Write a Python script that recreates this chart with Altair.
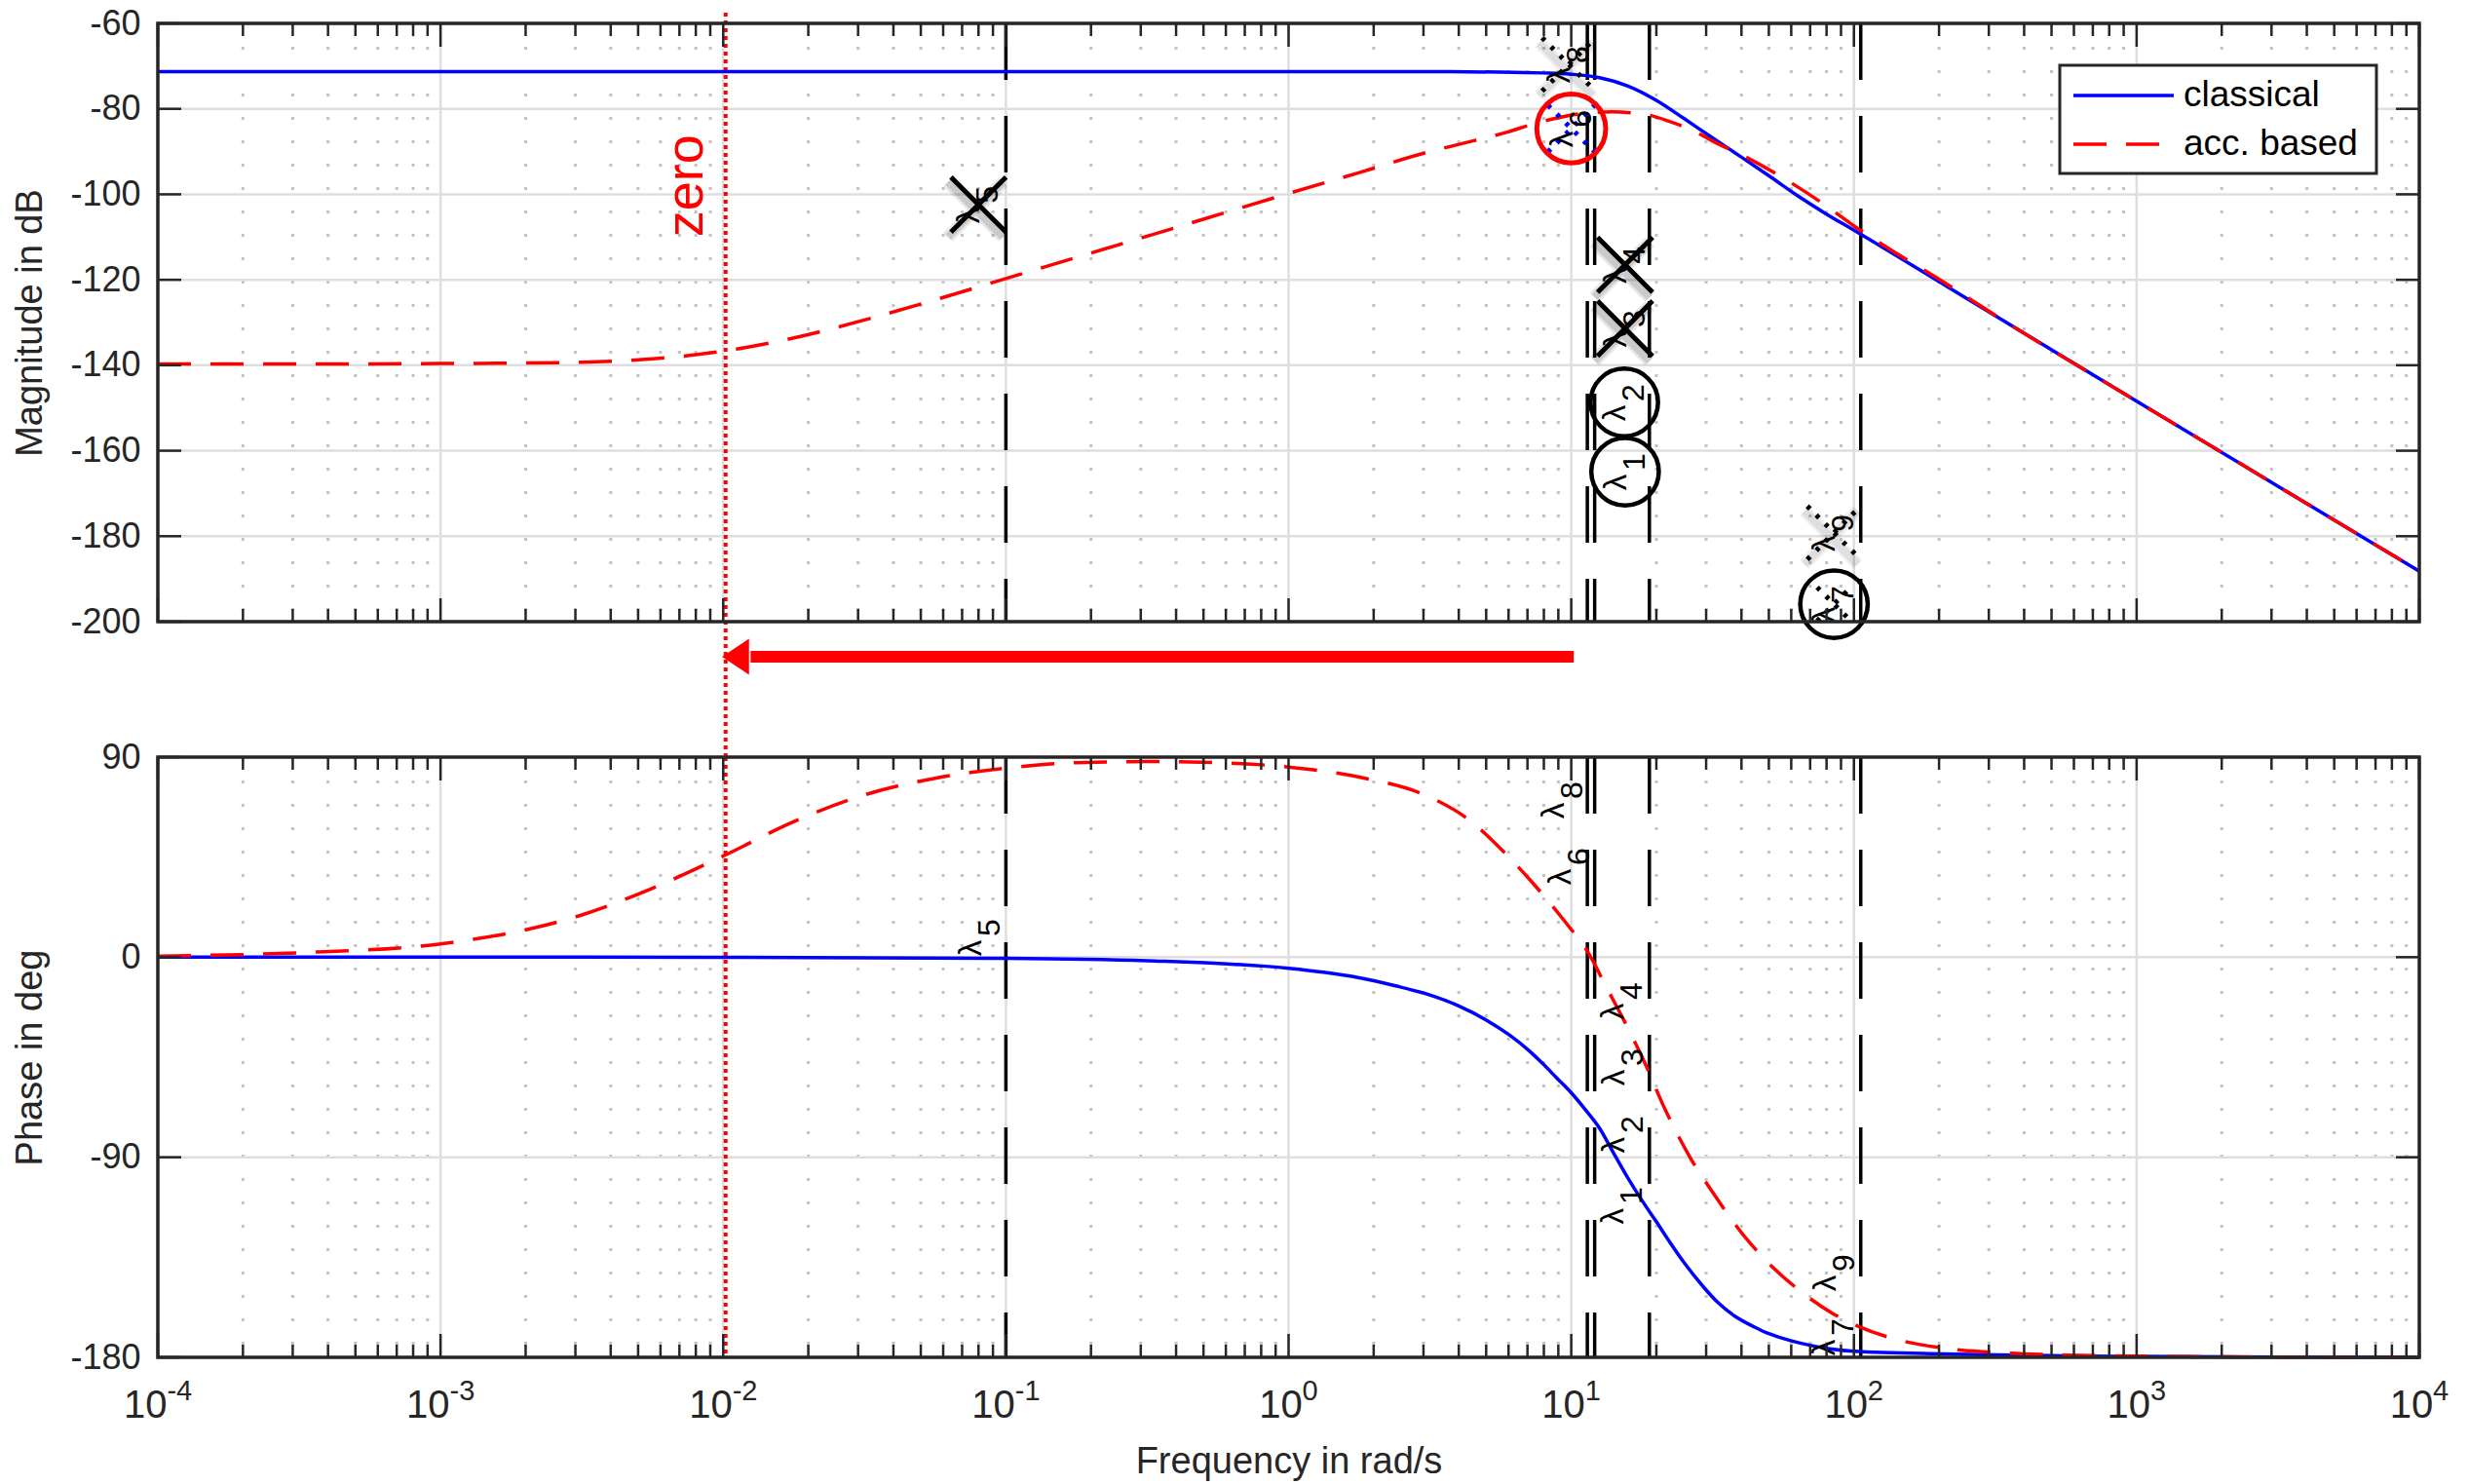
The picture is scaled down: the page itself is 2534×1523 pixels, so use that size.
import altair as alt
import pandas as pd

# ---------------- values ----------------
# magnitude (dB)
mag_freq_classical = [1e-4, 1e-3, 1e-2, 1e-1, 1, 3.16, 5.62, 7.94, 10, 12.6, 15.8, 20.0, 25.1, 31.6,
                      39.8, 50.1, 63.1, 79.4, 100, 214, 316, 1000, 3160, 10000]
mag_classical = [-71.3, -71.3, -71.3, -71.3, -71.3, -71.3, -71.4, -71.6, -71.9, -72.7, -74.6, -78.0,
                 -82.3, -86.8, -91.2, -95.7, -100.3, -104.5, -108.4, -121.6, -128.4, -148.4, -168.3, -188.2]
mag_freq_acc = [1e-4, 3.16e-4, 1e-3, 3.16e-3, 5.62e-3, 1e-2, 1.78e-2, 3.16e-2, 5.62e-2, 0.1, 0.316, 1,
                1.78, 3.16, 4.01, 5.97, 7.38, 9.12, 11.2, 13.9, 18.6, 22.4, 27.0, 32.4, 40.1, 56.6, 79.8,
                101, 125, 213, 316, 1000, 3160, 10000]
mag_acc = [-139.7, -139.7, -139.6, -139.3, -138.5, -136.7, -133.6, -129.4, -124.7, -119.7, -109.8, -99.8,
           -94.9, -90.0, -88.3, -85.4, -83.5, -82.0, -81.0, -80.7, -81.4, -83.0, -85.1, -87.9, -90.8,
           -96.3, -102.7, -107.6, -111.6, -121.0, -128.3, -148.4, -168.3, -188.2]
# phase (deg)
ph_freq_classical = [1e-4, 1e-3, 1e-2, 0.1, 0.316, 1, 1.33, 1.78, 2.37, 3.16, 3.98, 5.01, 6.04, 7.08, 7.94,
                     8.91, 10, 11.2, 12.6, 14.1, 15.8, 17.8, 20.0, 22.4, 25.1, 29.2, 33.1, 37.9, 44.7, 49.2,
                     56.2, 64.0, 83.2, 100, 209, 562, 1000, 3160, 10000]
ph_classical = [0, 0, -0.05, -0.5, -1.6, -5, -6.8, -9.3, -12.8, -17, -21.8, -28.3, -35, -42, -48,
                -54.5, -61, -68.5, -77, -88, -99, -109.5, -119, -128.5, -137.5, -148, -155.5, -161.5,
                -166.5, -169, -171.5, -173.5, -176.3, -177.3, -178.5, -179.3, -179.6, -179.9, -180]
ph_freq_acc = [1e-4, 3.16e-4, 1e-3, 3.16e-3, 5.62e-3, 1e-2, 1.78e-2, 3.16e-2, 5.62e-2, 0.1, 0.178, 0.316,
               0.562, 1, 1.78, 3.16, 4.22, 6.04, 7.26, 9.68, 11.4, 13.3, 15.5, 18.2, 21.3, 26.2, 32.4,
               39.9, 51.9, 64.0, 83.2, 103, 141, 208, 316, 562, 1000, 3160, 10000]
ph_acc = [0.5, 2, 6, 19, 31, 45.5, 61, 73, 80.5, 85, 87.5, 88, 87.5, 85.5, 81, 72, 63, 44.8, 33.8, 14.7,
          2.7, -13.4, -29.4, -47.5, -67.5, -89.6, -107.7, -123.7, -139.8, -149.8, -159.9, -165.9,
          -171.9, -175.9, -177.8, -179, -179.5, -179.9, -180]

# eigenvalue lines, markers and labels
lambda_lines = [0.1, 11.4, 12.1, 18.9, 105.7]
cross_freq = [0.080, 15.5, 15.5]
cross_db = [-102.4, -116.5, -131.4]
cross_lbl = ["5", "4", "3"]
circ_freq = [15.4, 15.5, 85.0]
circ_db = [-148.7, -164.9, -195.9]
circ_lbl = ["2", "1", "7"]
dotx_freq = [9.8, 85.0]
dotx_db = [-69.6, -179.2]
dotx_lbl = ["8", "9"]
inner_dotx_freq = [85.0]
inner_dotx_db = [-195.9]
blue_dotx_freq = [10.0]
blue_dotx_db = [-84.6]
blue_lbl = ["6"]
ph_lbl = ["5", "8", "6", "4", "3", "2", "1", "9", "7"]
ph_lbl_freq = [0.081, 9.31, 9.84, 15.2, 15.3, 15.3, 15.2, 85.3, 84.7]
ph_lbl_deg = [8.9, 70.7, 40.9, -19.6, -49.4, -79.7, -111.7, -141.9, -170.8]

zero_freq = [0.0102]
zero_text_freq = [0.00745]
zero_text_db = [-98]
arrow_from = [10.2]
arrow_shaft_end = [0.0125]
arrow_tip = [0.0099]

series_names = ["classical", "acc. based"]
mag_ticks = [-200, -180, -160, -140, -120, -100, -80, -60]
phase_ticks = [-180, -90, 0, 90]
decades = [1e-4, 1e-3, 1e-2, 1e-1, 1, 10, 100, 1000, 10000]
decade_exp = ["-4", "-3", "-2", "-1", "0", "1", "2", "3", "4"]
minor_mult = [2, 3, 4, 5, 6, 7, 8, 9]
minor = [m * d for d in decades[:-1] for m in minor_mult]

# ---------------- styling ----------------
FONT = "Liberation Sans"
INK = "#262626"
BLUE = "#0000ff"
RED = "#ff0000"
W, H1, H2 = 2321, 614, 616
GAP = 139

xs = alt.Scale(type="log", domain=[1e-4, 1e4], nice=False)
ys1 = alt.Scale(domain=[-200, -60], nice=False, zero=False)
ys2 = alt.Scale(domain=[-180, 90], nice=False, zero=False)

X_PATH = "M-1,-1L1,1M-1,1L1,-1"
HEAD_PATH = "M0,0L1.5,-1L1.5,1Z"

dummy = pd.DataFrame({"a": [0]})
df_dec = pd.DataFrame({"f": decades, "e": decade_exp})
df_min = pd.DataFrame({"f": minor})
df_lines = pd.DataFrame({"f": lambda_lines})

yaxis1 = alt.Axis(values=mag_ticks, labelExpr="datum.value + ''", labelFont=FONT, labelFontSize=36,
                  labelColor=INK, labelPadding=18, ticks=False, domain=False, grid=False,
                  labelFlush=False, labelOverlap=False, title="Magnitude in dB", titleFont=FONT,
                  titleFontSize=38, titleFontWeight="normal", titleColor=INK, titleX=-131, titleY=H1 / 2,
                  titleAngle=270, titleBaseline="middle", titleAlign="center")
yaxis2 = alt.Axis(values=phase_ticks, labelExpr="datum.value + ''", labelFont=FONT, labelFontSize=36,
                  labelColor=INK, labelPadding=18, ticks=False, domain=False, grid=False,
                  labelFlush=False, labelOverlap=False, title="Phase in deg", titleFont=FONT,
                  titleFontSize=38, titleFontWeight="normal", titleColor=INK, titleX=-131, titleY=H2 / 2,
                  titleAngle=270, titleBaseline="middle", titleAlign="center")
xaxis2 = alt.Axis(values=decades, labels=False, ticks=False, domain=False, grid=False,
                  title="Frequency in rad/s", titleFont=FONT, titleFontSize=38, titleFontWeight="normal",
                  titleColor=INK, titleX=W / 2, titleY=107, titleBaseline="middle", titleAlign="center")


class Panel:
    def __init__(self, ys, yaxis, xaxis, H, yticks):
        self.ys, self.yaxis, self.xaxis, self.H, self.yticks = ys, yaxis, xaxis, H, yticks

    def x(self, field="f"):
        return alt.X(f"{field}:Q", scale=xs, axis=self.xaxis)

    def y(self, field="v"):
        return alt.Y(f"{field}:Q", scale=self.ys, axis=self.yaxis)


def background_layers(p):
    H = p.H
    df_y = pd.DataFrame({"v": p.yticks})
    minor_grid = alt.Chart(df_min).mark_rule(color="#c2c2c2", strokeWidth=3, strokeDash=[3, 21]).encode(
        x=p.x(), y=alt.value(0), y2=alt.value(H))
    major_x = alt.Chart(df_dec).mark_rule(color="#dedede", strokeWidth=2.5).encode(
        x=p.x(), y=alt.value(0), y2=alt.value(H))
    major_y = alt.Chart(df_y).mark_rule(color="#dedede", strokeWidth=2.5).encode(
        y=p.y(), x=alt.value(0), x2=alt.value(W))
    dashed = alt.Chart(df_lines).mark_rule(color="black", strokeWidth=3.5, strokeDash=[58, 37]).encode(
        x=p.x(), y=alt.value(0), y2=alt.value(H))
    return [minor_grid, major_x, major_y, dashed]


def tick_layers(p):
    H = p.H
    df_y = pd.DataFrame({"v": p.yticks})
    L, l = 24, 13
    out = []
    for y0, y1 in [(H, H - L), (0, L)]:
        out.append(alt.Chart(df_dec).mark_rule(color=INK, strokeWidth=2.5).encode(
            x=p.x(), y=alt.value(y0), y2=alt.value(y1)))
    for y0, y1 in [(H, H - l), (0, l)]:
        out.append(alt.Chart(df_min).mark_rule(color=INK, strokeWidth=2.5).encode(
            x=p.x(), y=alt.value(y0), y2=alt.value(y1)))
    for x0, x1 in [(0, L), (W, W - L)]:
        out.append(alt.Chart(df_y).mark_rule(color=INK, strokeWidth=2.5).encode(
            y=p.y(), x=alt.value(x0), x2=alt.value(x1)))
    out.append(alt.Chart(dummy).mark_rect(fillOpacity=0, stroke=INK, strokeWidth=3.5).encode(
        x=alt.value(0), x2=alt.value(W), y=alt.value(0), y2=alt.value(H)))
    return out


def curve_layers(p, fc, vc, fa, va):
    dc = pd.DataFrame({"f": fc, "v": vc})
    da = pd.DataFrame({"f": fa, "v": va})
    blue = alt.Chart(dc).mark_line(color=BLUE, strokeWidth=3.5, interpolate="monotone").encode(
        x=p.x(), y=p.y())
    red = alt.Chart(da).mark_line(color=RED, strokeWidth=3.5, strokeDash=[34, 20],
                                  interpolate="monotone").encode(x=p.x(), y=p.y())
    return [blue, red]


def lambda_text(p, df, size=33):
    lam = alt.Chart(df).mark_text(text="λ", angle=270, font=FONT, fontSize=size, color="black",
                                  align="center", baseline="middle", dx=-11, dy=-9).encode(
        x=p.x(), y=p.y())
    num = alt.Chart(df).mark_text(angle=270, font=FONT, fontSize=size - 1, color="black",
                                  align="center", baseline="middle", dx=10, dy=10).encode(
        x=p.x(), y=p.y(), text="lbl:N")
    return [lam, num]


# ---------------- magnitude panel ----------------
P1 = Panel(ys1, yaxis1, None, H1, mag_ticks)

df_cross = pd.DataFrame({"f": cross_freq, "v": cross_db, "lbl": cross_lbl})
df_circ = pd.DataFrame({"f": circ_freq, "v": circ_db, "lbl": circ_lbl})
df_dotx = pd.DataFrame({"f": dotx_freq, "v": dotx_db, "lbl": dotx_lbl})
df_inner = pd.DataFrame({"f": inner_dotx_freq, "v": inner_dotx_db})
df_blue = pd.DataFrame({"f": blue_dotx_freq, "v": blue_dotx_db, "lbl": blue_lbl})
df_top_lbl = pd.concat([df_cross, df_circ, df_dotx, df_blue], ignore_index=True)

top_layers = background_layers(P1)

# zero line (extends through the gap)
top_layers.append(alt.Chart(pd.DataFrame({"f": zero_freq})).mark_rule(
    color=RED, strokeWidth=4, strokeDash=[4, 4]).encode(x=P1.x(), y=alt.value(-11), y2=alt.value(H1 + GAP)))
top_layers += curve_layers(P1, mag_freq_classical, mag_classical, mag_freq_acc, mag_acc)

# shadows of crosses
for w, op in [(13, 0.09), (8, 0.12)]:
    top_layers.append(alt.Chart(df_cross).mark_point(shape=X_PATH, size=3200, filled=False, stroke="black",
                                                     strokeWidth=w, opacity=op, xOffset=-3, yOffset=5).encode(
        x=P1.x(), y=P1.y()))
    top_layers.append(alt.Chart(df_dotx).mark_point(shape=X_PATH, size=3000, filled=False, stroke="black",
                                                    strokeWidth=w, opacity=op * 0.6, xOffset=-3, yOffset=5).encode(
        x=P1.x(), y=P1.y()))
top_layers.append(alt.Chart(df_cross).mark_point(shape=X_PATH, size=3200, filled=False, stroke="black",
                                                 strokeWidth=5, opacity=1).encode(x=P1.x(), y=P1.y()))
top_layers.append(alt.Chart(df_circ).mark_point(shape="circle", size=4800, filled=False, stroke="black",
                                                strokeWidth=4.5, opacity=1).encode(x=P1.x(), y=P1.y()))
top_layers.append(alt.Chart(df_dotx).mark_point(shape=X_PATH, size=3000, filled=False, stroke="black",
                                                strokeWidth=5, strokeDash=[4, 9], opacity=1).encode(
    x=P1.x(), y=P1.y()))
top_layers.append(alt.Chart(df_inner).mark_point(shape=X_PATH, size=1200, filled=False, stroke="black",
                                                 strokeWidth=5, strokeDash=[4, 9], opacity=1).encode(
    x=P1.x(), y=P1.y()))
top_layers.append(alt.Chart(df_blue).mark_point(shape=X_PATH, size=2300, filled=False, stroke=BLUE,
                                                strokeWidth=5, strokeDash=[4, 9], opacity=1).encode(
    x=P1.x(), y=P1.y()))
top_layers.append(alt.Chart(df_blue).mark_point(shape="circle", size=5000, filled=False, stroke=RED,
                                                strokeWidth=5, opacity=1).encode(x=P1.x(), y=P1.y()))
top_layers += lambda_text(P1, df_top_lbl)

top_layers.append(alt.Chart(pd.DataFrame({"f": zero_text_freq, "v": zero_text_db})).mark_text(
    text="zero", angle=270, font=FONT, fontSize=54, color=RED, align="center", baseline="middle").encode(
    x=P1.x(), y=P1.y()))
top_layers.append(alt.Chart(pd.DataFrame({"f": arrow_from, "f2": arrow_shaft_end})).mark_rule(
    color=RED, strokeWidth=12, strokeCap="butt").encode(x=P1.x(), x2="f2:Q", y=alt.value(H1 + 36)))
top_layers.append(alt.Chart(pd.DataFrame({"f": arrow_tip})).mark_point(
    shape=HEAD_PATH, size=1369, filled=True, fill=RED, strokeWidth=0, opacity=1).encode(
    x=P1.x(), y=alt.value(H1 + 36)))

top_layers += tick_layers(P1)

# legend (box, samples, labels)
LX0, LX1, LY0, LY1 = 1952, 2277, 43, 154
top_layers.append(alt.Chart(dummy).mark_rect(fill="white", stroke=INK, strokeWidth=3).encode(
    x=alt.value(LX0), x2=alt.value(LX1), y=alt.value(LY0), y2=alt.value(LY1)))
df_leg = pd.DataFrame({"name": series_names, "row": [0, 1]})
top_layers.append(alt.Chart(df_leg).transform_filter("datum.row == 0").mark_rule(
    color=BLUE, strokeWidth=3.5).encode(x=alt.value(1966), x2=alt.value(2069), y=alt.value(74)))
top_layers.append(alt.Chart(df_leg).transform_filter("datum.row == 1").mark_rule(
    color=RED, strokeWidth=3.5, strokeDash=[34, 20]).encode(x=alt.value(1966), x2=alt.value(2069),
                                                           y=alt.value(124)))
top_layers.append(alt.Chart(df_leg).transform_filter("datum.row == 0").mark_text(
    font=FONT, fontSize=37, color="black", align="left", baseline="middle").encode(
    x=alt.value(2079), y=alt.value(74), text="name:N"))
top_layers.append(alt.Chart(df_leg).transform_filter("datum.row == 1").mark_text(
    font=FONT, fontSize=37, color="black", align="left", baseline="middle").encode(
    x=alt.value(2079), y=alt.value(124), text="name:N"))

top = alt.layer(*top_layers).properties(width=W, height=H1)

# ---------------- phase panel ----------------
P2 = Panel(ys2, yaxis2, xaxis2, H2, phase_ticks)

bot_layers = background_layers(P2)
bot_layers.append(alt.Chart(pd.DataFrame({"f": zero_freq})).mark_rule(
    color=RED, strokeWidth=4, strokeDash=[4, 4]).encode(x=P2.x(), y=alt.value(0), y2=alt.value(H2)))
bot_layers += curve_layers(P2, ph_freq_classical, ph_classical, ph_freq_acc, ph_acc)
df_ph_lbl = pd.DataFrame({"f": ph_lbl_freq, "v": ph_lbl_deg, "lbl": ph_lbl})
bot_layers += lambda_text(P2, df_ph_lbl)
bot_layers += tick_layers(P2)

# x tick labels 10^k
neg = df_dec[df_dec["e"].str.startswith("-")]
pos = df_dec[~df_dec["e"].str.startswith("-")]
for d, dx_base, dx_exp in [(neg, -12.8, 9.4), (pos, -8.1, 14.1)]:
    bot_layers.append(alt.Chart(d).mark_text(text="10", font=FONT, fontSize=40, color=INK, align="center",
                                             baseline="alphabetic", dx=dx_base).encode(
        x=P2.x(), y=alt.value(H2 + 62)))
    bot_layers.append(alt.Chart(d).mark_text(font=FONT, fontSize=29, color=INK, align="left",
                                             baseline="alphabetic", dx=dx_exp).encode(
        x=P2.x(), y=alt.value(H2 + 44), text="e:N"))

bottom = alt.layer(*bot_layers).properties(width=W, height=H2)

chart = alt.vconcat(top, bottom, spacing=GAP, bounds="flush").configure_view(stroke=None).properties(
    padding={"left": 12, "top": 6, "right": 10, "bottom": 10}, background="white")

chart.save("out.html", embed_options={"renderer": "svg", "actions": False})
